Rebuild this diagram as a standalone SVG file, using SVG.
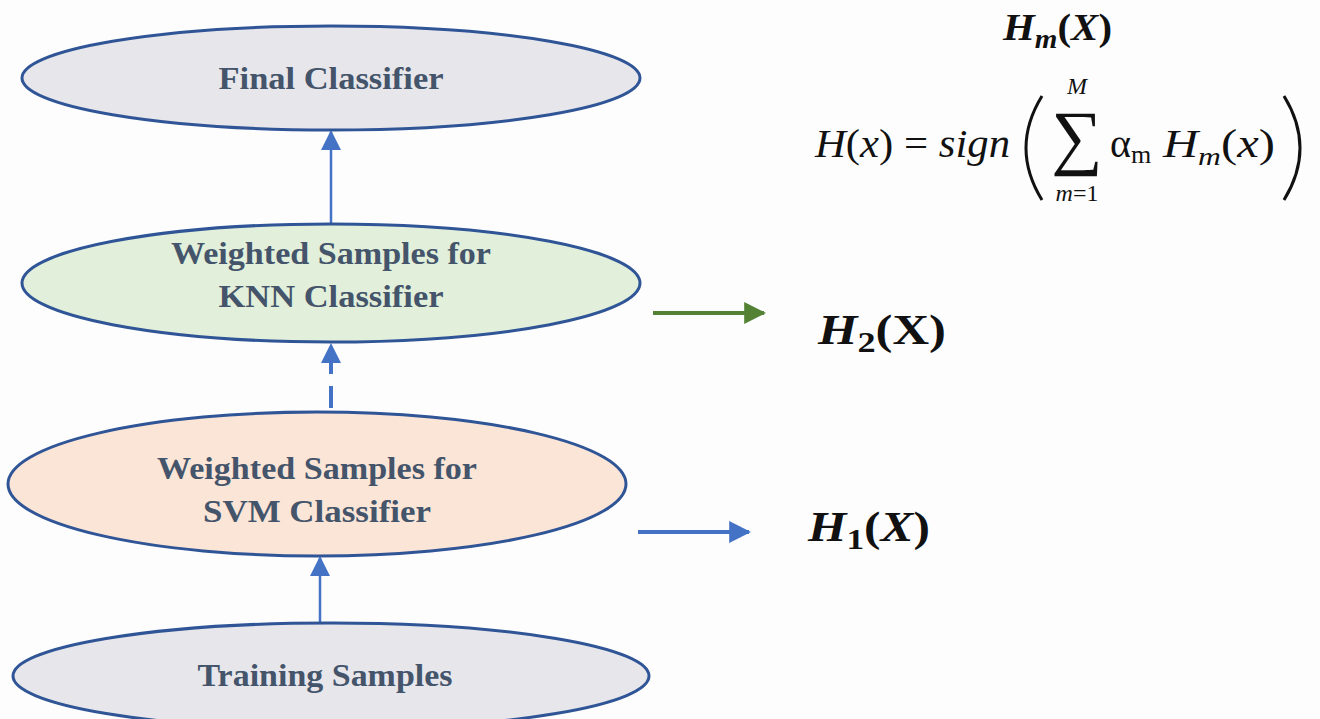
<svg xmlns="http://www.w3.org/2000/svg" width="1320" height="719" viewBox="0 0 1320 719">
<defs>
<style>
.node{stroke:#2f5597;stroke-width:3}
.lbl{font-family:"Liberation Serif",serif;font-weight:bold;font-size:31px;fill:#44546a;text-anchor:middle}
.math{font-family:"Liberation Serif",serif;fill:#111}
.conn{stroke:#4472c4;stroke-width:2.5;fill:none}
.dash{stroke-width:4;stroke-dasharray:22,12}
</style>
<marker id="abig" viewBox="0 0 10 10" refX="9" refY="5" markerWidth="22" markerHeight="20" orient="auto" markerUnits="userSpaceOnUse"><path d="M0,0 L10,5 L0,10 Z" fill="#4472c4"/></marker>
<marker id="ablue" viewBox="0 0 10 10" refX="9" refY="5" markerWidth="22" markerHeight="22" orient="auto" markerUnits="userSpaceOnUse"><path d="M0,0 L10,5 L0,10 Z" fill="#4472c4"/></marker>
<marker id="agreen" viewBox="0 0 10 10" refX="9" refY="5" markerWidth="22" markerHeight="22" orient="auto" markerUnits="userSpaceOnUse"><path d="M0,0 L10,5 L0,10 Z" fill="#548235"/></marker>
</defs>
<rect width="1320" height="719" fill="#fdfdfe"/>
<g id="connectors">
<line class="conn" x1="331" y1="224" x2="331" y2="132" marker-end="url(#abig)"/>
<line class="conn dash" x1="331" y1="408" x2="331" y2="345" marker-end="url(#abig)"/>
<line class="conn" x1="320" y1="622" x2="320" y2="558" marker-end="url(#abig)"/>
<line x1="653" y1="313" x2="764" y2="313" stroke="#548235" stroke-width="4" marker-end="url(#agreen)"/>
<line x1="638" y1="532" x2="749" y2="532" stroke="#4472c4" stroke-width="4" marker-end="url(#ablue)"/>
</g>
<g id="final">
<ellipse class="node" cx="331" cy="78" rx="309" ry="52" fill="#e7e6ea"/>
<text class="lbl" x="331" y="89" textLength="225" lengthAdjust="spacingAndGlyphs">Final Classifier</text>
</g>
<g id="knn">
<ellipse class="node" cx="331" cy="283" rx="309" ry="59" fill="#e2efda"/>
<text class="lbl" x="331" y="264" textLength="320" lengthAdjust="spacingAndGlyphs">Weighted Samples for</text>
<text class="lbl" x="331" y="307" textLength="225" lengthAdjust="spacingAndGlyphs">KNN Classifier</text>
</g>
<g id="svm">
<ellipse class="node" cx="317" cy="484" rx="309" ry="72" fill="#fbe5d7"/>
<text class="lbl" x="317" y="479" textLength="320" lengthAdjust="spacingAndGlyphs">Weighted Samples for</text>
<text class="lbl" x="317" y="522" textLength="228" lengthAdjust="spacingAndGlyphs">SVM Classifier</text>
</g>
<g id="training">
<ellipse class="node" cx="331" cy="676" rx="318" ry="53" fill="#e7e6ea"/>
<text class="lbl" x="325" y="686" textLength="255" lengthAdjust="spacingAndGlyphs">Training Samples</text>
</g>
<g id="h2">
<text class="math" x="818" y="344" font-size="42" font-weight="bold" textLength="128" lengthAdjust="spacingAndGlyphs"><tspan font-style="italic">H</tspan><tspan font-size="30" dy="8">2</tspan><tspan dy="-8">(X)</tspan></text>
</g>
<g id="h1">
<text class="math" x="808" y="541" font-size="42" font-weight="bold" textLength="122" lengthAdjust="spacingAndGlyphs"><tspan font-style="italic">H</tspan><tspan font-size="30" dy="8">1</tspan><tspan dy="-8">(</tspan><tspan font-style="italic">X</tspan><tspan>)</tspan></text>
</g>
<g id="hm">
<text class="math" x="1003" y="40" font-size="38" font-weight="bold" textLength="109" lengthAdjust="spacingAndGlyphs"><tspan font-style="italic">H</tspan><tspan font-size="27" dy="8" font-style="italic">m</tspan><tspan dy="-8">(</tspan><tspan font-style="italic">X</tspan><tspan>)</tspan></text>
</g>
<g id="formula">
<text class="math" x="815" y="157" font-size="40" textLength="195" lengthAdjust="spacingAndGlyphs"><tspan font-style="italic">H</tspan>(<tspan font-style="italic">x</tspan>) = <tspan font-style="italic">sign</tspan></text>
<path d="M1042,96 Q1010,148 1042,200" fill="none" stroke="#111" stroke-width="3"/>
<text class="math" x="1077" y="161" font-size="72" text-anchor="middle">∑</text>
<text class="math" x="1077" y="94" font-size="24" font-style="italic" text-anchor="middle">M</text>
<text class="math" x="1077" y="201" font-size="24" text-anchor="middle"><tspan font-style="italic">m</tspan>=1</text>
<text class="math" x="1110" y="157" font-size="40">α<tspan font-size="26" dy="6">m</tspan></text>
<text class="math" x="1163" y="157" font-size="40" textLength="112" lengthAdjust="spacingAndGlyphs"><tspan font-style="italic">H</tspan><tspan font-size="26" dy="8" font-style="italic">m</tspan><tspan dy="-8">(</tspan><tspan font-style="italic">x</tspan>)</text>
<path d="M1284,96 Q1316,148 1284,200" fill="none" stroke="#111" stroke-width="3"/>
</g>
</svg>
